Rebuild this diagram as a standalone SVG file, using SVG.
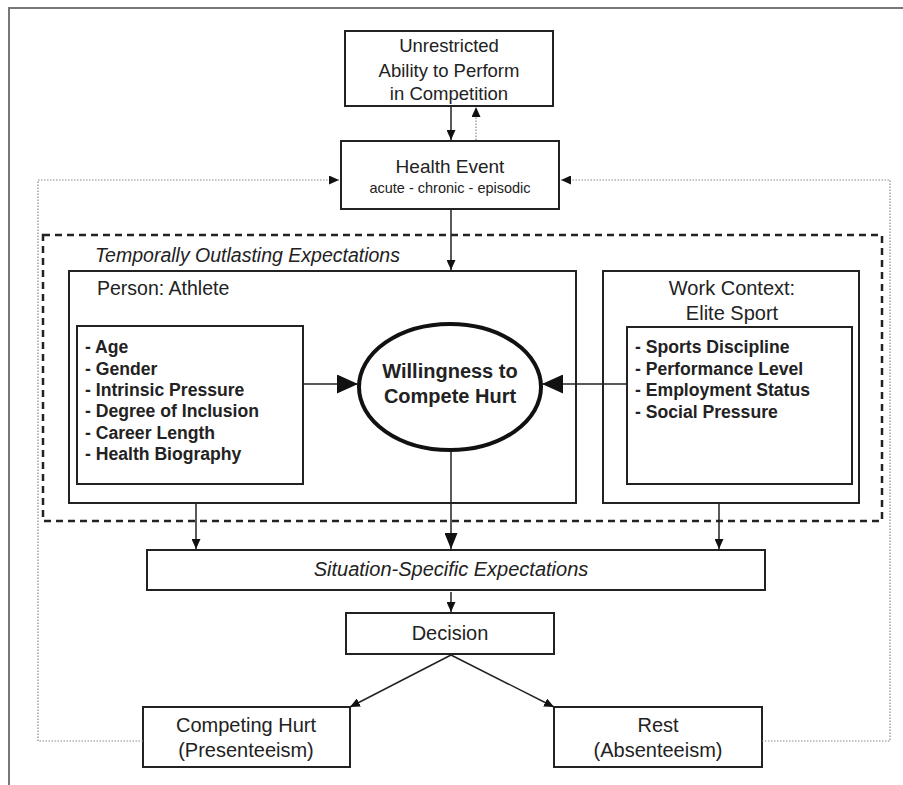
<svg xmlns="http://www.w3.org/2000/svg" width="903" height="785" viewBox="0 0 903 785">
<style>
  .box{fill:#fff;stroke:#222;stroke-width:2}
  .open{fill:none;stroke:#222;stroke-width:2}
  .t{font-family:"Liberation Sans",Arial,sans-serif;fill:#222}
  .c{text-anchor:middle}
  .b{font-weight:bold}
  .i{font-style:italic}
  .ln{fill:none;stroke:#222;stroke-width:1.5}
  .dot{fill:none;stroke:#888;stroke-width:1.2;stroke-dasharray:1.5 1.5}
</style>
<defs>
  <marker id="ah" markerUnits="userSpaceOnUse" markerWidth="10" markerHeight="9" refX="10" refY="4.5" orient="auto">
    <path d="M0,0 L10,4.5 L0,9 z" fill="#111"/>
  </marker>
  <marker id="ahm" markerUnits="userSpaceOnUse" markerWidth="16" markerHeight="13" refX="16" refY="6.5" orient="auto">
    <path d="M0,0 L16,6.5 L0,13 z" fill="#111"/>
  </marker>
  <marker id="ahb" markerUnits="userSpaceOnUse" markerWidth="21" markerHeight="19" refX="21" refY="9.5" orient="auto">
    <path d="M0,0 L21,9.5 L0,19 z" fill="#111"/>
  </marker>
</defs>
<rect width="903" height="785" fill="#fff"/>
<path d="M9,785 V8 H903" fill="none" stroke="#777" stroke-width="2"/>

<g id="unrestricted">
  <rect class="box" x="345" y="31" width="208" height="75"/>
  <text class="t c" x="449" y="52" font-size="18.5">Unrestricted</text>
  <text class="t c" x="449" y="77" font-size="18.5">Ability to Perform</text>
  <text class="t c" x="449" y="100" font-size="18.5">in Competition</text>
</g>

<g id="health-event">
  <rect class="box" x="341" y="141" width="218" height="68" stroke-width="2.5"/>
  <text class="t c" x="450" y="173" font-size="19">Health Event</text>
  <text class="t c" x="450" y="193" font-size="14.5">acute - chronic - episodic</text>
</g>

<g id="temporally-outlasting">
  <rect x="43" y="235" width="839" height="286" fill="none" stroke="#222" stroke-width="2.5" stroke-dasharray="7 5"/>
  <text class="t i" x="95" y="262" font-size="19.5">Temporally Outlasting Expectations</text>
</g>

<g id="person-athlete">
  <rect class="open" x="69" y="271" width="507" height="232"/>
  <text class="t" x="97" y="295" font-size="19.5">Person: Athlete</text>
</g>

<g id="person-factors">
  <rect class="box" x="77" y="326" width="226" height="158"/>
  <g class="t b" font-size="17.6">
    <text x="85" y="353">- Age</text>
    <text x="85" y="375">- Gender</text>
    <text x="85" y="396">- Intrinsic Pressure</text>
    <text x="85" y="417">- Degree of Inclusion</text>
    <text x="85" y="439">- Career Length</text>
    <text x="85" y="460">- Health Biography</text>
  </g>
</g>

<g id="willingness">
  <ellipse cx="450" cy="387" rx="91" ry="63" fill="#fff" stroke="#111" stroke-width="4"/>
  <text class="t c b" x="450" y="378" font-size="20">Willingness to</text>
  <text class="t c b" x="450" y="403" font-size="20">Compete Hurt</text>
</g>

<g id="work-context">
  <rect class="open" x="603" y="271" width="256" height="232" stroke-width="2.5"/>
  <text class="t c" x="732" y="295" font-size="20">Work Context:</text>
  <text class="t c" x="732" y="320" font-size="20">Elite Sport</text>
</g>

<g id="work-factors">
  <rect class="box" x="627" y="327" width="225" height="157"/>
  <g class="t b" font-size="17.6">
    <text x="635" y="353">- Sports Discipline</text>
    <text x="635" y="375">- Performance Level</text>
    <text x="635" y="396">- Employment Status</text>
    <text x="635" y="418">- Social Pressure</text>
  </g>
</g>

<g id="situation-specific">
  <rect class="box" x="147" y="550" width="618" height="40" stroke-width="3"/>
  <text class="t c i" x="451" y="576" font-size="20">Situation-Specific Expectations</text>
</g>

<g id="decision">
  <rect class="box" x="346" y="613" width="208" height="41"/>
  <text class="t c" x="450" y="640" font-size="20">Decision</text>
</g>

<g id="competing-hurt">
  <rect class="box" x="143" y="707" width="207" height="60"/>
  <text class="t c" x="246" y="732" font-size="20">Competing Hurt</text>
  <text class="t c" x="246" y="757" font-size="20">(Presenteeism)</text>
</g>

<g id="rest">
  <rect class="box" x="554" y="707" width="208" height="60"/>
  <text class="t c" x="658" y="732" font-size="20">Rest</text>
  <text class="t c" x="658" y="757" font-size="20">(Absenteeism)</text>
</g>

<g id="connectors">
  <path class="dot" d="M143,741 H38 V180 H339" marker-end="url(#ah)"/>
  <path class="dot" d="M762,741 H890 V180 H561" marker-end="url(#ah)"/>
  <line class="ln" x1="451" y1="107" x2="451" y2="140" marker-end="url(#ah)"/>
  <line class="dot" x1="476" y1="140" x2="476" y2="107" marker-end="url(#ah)"/>
  <line class="ln" x1="451" y1="210" x2="451" y2="270" marker-end="url(#ah)"/>
  <line class="ln" x1="304" y1="384" x2="358" y2="384" stroke-width="2.5" marker-end="url(#ahb)"/>
  <line class="ln" x1="626" y1="384" x2="542" y2="384" stroke-width="2.5" marker-end="url(#ahb)"/>
  <line class="ln" x1="196" y1="504" x2="196" y2="549" marker-end="url(#ah)"/>
  <line class="ln" x1="451" y1="452" x2="451" y2="549" stroke-width="2" marker-end="url(#ahm)"/>
  <line class="ln" x1="719" y1="504" x2="719" y2="549" marker-end="url(#ah)"/>
  <line class="ln" x1="451" y1="592" x2="451" y2="612" stroke-width="1" marker-end="url(#ah)"/>
  <line class="ln" x1="451" y1="655" x2="350" y2="707" marker-end="url(#ah)"/>
  <line class="ln" x1="451" y1="655" x2="554" y2="707" marker-end="url(#ah)"/>
</g>
</svg>
